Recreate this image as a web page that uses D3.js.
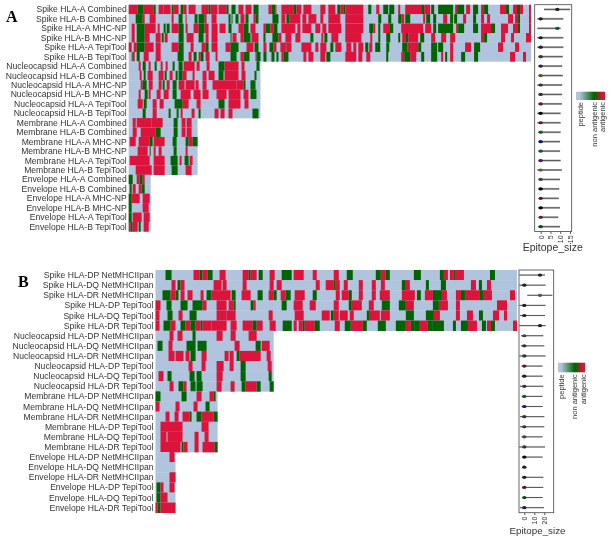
<!DOCTYPE html>
<html lang="en">
  <head>
    <title>Epitope maps</title>
    <script src="https://d3js.org/d3.v7.min.js"></script>
    <style>
      html, body { margin: 0; padding: 0; background: #fff; }
      svg { display: block; filter: blur(0.4px); }
      text { font-family: "Liberation Sans", Arial, sans-serif; fill: #333; }
    </style>
    <script>
// row labels
var labelsA = ['Spike HLA-A Combined','Spike HLA-B Combined','Spike HLA-A MHC-NP','Spike HLA-B MHC-NP','Spike HLA-A TepiTool','Spike HLA-B TepiTool',
  'Nucleocapsid HLA-A Combined','Nucleocapsid HLA-B Combined','Nucleocapsid HLA-A MHC-NP','Nucleocapsid HLA-B MHC-NP','Nucleocapsid HLA-A TepiTool','Nucleocapsid HLA-B TepiTool',
  'Membrane HLA-A Combined','Membrane HLA-B Combined','Membrane HLA-A MHC-NP','Membrane HLA-B MHC-NP','Membrane HLA-A TepiTool','Membrane HLA-B TepiTool',
  'Envelope HLA-A Combined','Envelope HLA-B Combined','Envelope HLA-A MHC-NP','Envelope HLA-B MHC-NP','Envelope HLA-A TepiTool','Envelope HLA-B TepiTool'];
var labelsB = ['Spike HLA-DP NetMHCIIpan','Spike HLA-DQ NetMHCIIpan','Spike HLA-DR NetMHCIIpan','Spike HLA-DP TepiTool','Spike HLA-DQ TepiTool','Spike HLA-DR TepiTool',
  'Nucleocapsid HLA-DP NetMHCIIpan','Nucleocapsid HLA-DQ NetMHCIIpan','Nucleocapsid HLA-DR NetMHCIIpan','Nucleocapsid HLA-DP TepiTool','Nucleocapsid HLA-DQ TepiTool','Nucleocapsid HLA-DR TepiTool',
  'Membrane HLA-DP NetMHCIIpan','Membrane HLA-DQ NetMHCIIpan','Membrane HLA-DR NetMHCIIpan','Membrane HLA-DP TepiTool','Membrane HLA-DQ TepiTool','Membrane HLA-DR TepiTool',
  'Envelope HLA-DP NetMHCIIpan','Envelope HLA-DQ NetMHCIIpan','Envelope HLA-DR NetMHCIIpan','Envelope HLA-DP TepiTool','Envelope HLA-DQ TepiTool','Envelope HLA-DR TepiTool'];

// protein length in sequence windows, one per group of six rows
var lengthsA = [403, 132, 69, 22];
var lengthsB = [361, 118, 62, 20];

// a = antigenic, n = non antigenic, from-to in windows; the rest of a row is plain peptide
var spikeA = [
  'a0-9 n9-15 a15-25 n25-27 a30-35 a35-42 n43-45 a45-50 n52-55 a55-58 a60-67 a73-80 n80-82 a82-89 a90-98 n98-100 n103-107 a110-115 a117-123 n125-130 a140-143 n143-147 a147-148 a153-165 n165-168 a168-173 a175-183 a192-197 a200-207 n209-212 a212-215 n215-217 a217-235 n240-243 a248-251 n255-260 n261-266 a270-272 a277-293 n293-296 a296-302 n303-306 n310-325 a327-329 n329-336 a338-342 n345-350 a353-356 n356-360 a372-378 n378-381 a385-389 n389-392 a392-395 a401-403',
  'n7-14 a14-16 a21-27 a43-45 n50-54 a57-58 n66-69 n70-76 a76-78 a83-88 n100-102 n103-104 n107-110 a112-116 n117-120 a125-127 n127-130 n144-150 a153-157 n158-161 a161-172 a174-178 a180-188 a192-195 a200-212 a217-235 n250-253 n260-263 n270-273 a273-276 n277-282 a295-297 n298-302 n305-308 a315-319 n322-325 n326-329 a335-338 n345-348 a353-356 a359-362 a380-385 a387-390 n390-392 a401-403',
  'a3-6 n8-16 a16-27 a29-31 n35-37 n38-41 a43-50 n50-55 a57-59 a65-70 n70-76 a76-80 a83-89 a91-97 n100-103 a110-115 n115-120 a122-127 a135-137 n137-142 a142-145 n145-149 a153-167 a169-172 a174-183 a187-192 a194-198 a200-213 a217-235 n241-245 a245-247 n250-252 a255-261 n261-265 a273-295 a297-303 n305-308 n310-325 a328-330 n330-336 n345-350 a353-363 n363-367 a373-380 a385-390 n390-392 a401-403',
  'a3-6 n8-16 a16-21 a27-32 n33-35 a36-39 n50-55 a58-65 n70-75 a77-80 a83-89 n102-103 a104-108 a112-115 n115-122 a123-130 n135-137 n144-150 a150-153 a157-163 a167-172 n182-185 a193-195 n196-199 a203-210 a217-233 a242-244 n250-252 n258-262 n270-272 a274-277 n277-280 a280-290 n292-296 a303-307 a313-318 a322-327 a353-356 n356-359 a373-377 a383-386 a398-403',
  'a0-3 a5-8 n8-16 a16-25 a27-32 a43-50 n50-55 a62-65 a73-77 n77-80 a83-89 a97-102 n102-110 a118-125 n126-130 a135-138 n141-145 a145-148 a152-157 n157-158 a158-163 a173-183 a187-190 a192-198 n202-205 a207-213 a218-223 a225-228 a230-235 n237-240 a241-244 n247-252 n258-261 n274-279 a279-290 n290-293 n303-309 n310-315 a322-325 a337-343 n346-352 a370-375 a387-391',
  'n3-4 a4-6 n8-11 a15-20 a27-32 n49-55 a60-63 n65-68 a70-72 n72-75 a77-81 a87-89 n102-108 a112-115 n115-121 a127-128 n128-132 n135-138 n143-146 n148-150 a153-155 n155-160 a175-178 a180-185 a192-197 n198-202 a217-228 a230-234 a238-242 n258-260 a273-276 n276-282 a282-288 n293-296 n303-309 a313-315 n317-319 a322-325 n333-337 n346-350 a382-387 a395-398'
];
var nucleoA = [
  'a10-12 n14-17 a20-22 n26-28 a32-34 a37-39 n44-46 n50-54 a55-66 a68-71 a78-81 n90-96 a96-110 a113-116 n128-131',
  'a11-13 n15-17 a19-24 a30-35 n36-38 a41-44 n47-49 n50-54 a54-58 a64-66 a74-78 a80-86 n90-95 a96-110 a113-117 n126-128',
  'a12-14 n14-18 a20-24 a30-33 n34-36 a38-41 n44-48 a50-56 a57-66 a67-70 a74-78 a84-108 a108-115 n115-117 n122-127',
  'a10-12 n16-19 a20-22 a28-32 a35-40 n44-48 a52-62 a65-72 a74-80 a88-98 a100-112 a115-120 n122-128',
  'a9-14 n15-18 a24-28 a31-35 n46-54 a54-60 a68-72 n90-96 a100-112 a116-120',
  'n14-17 a24-28 n40-42 n48-50 a52-54 a63-66 n70-72 a86-90 a92-96 a100-104 n124-130'
];
var membraneA = [
  'a4-7 a8-23 a23-34 n45-49 a53-57 a58-63',
  'a4-8 a12-27 n27-32 n45-49 a53-57 a58-63',
  'a1-7 a10-21 n21-24 a25-36 n44-48 n57-60 a60-64 n64-69',
  'a9-19 n21-22 a25-27 a30-33 n45-48 a57-59',
  'a1-21 a25-36 n42-49 a51-53 n56-60 a61-64',
  'a7-23 a25-36 n43-49 a57-63'
];
var envelopeA = [
  'n0-4 a8-11 n11-14 a14-16',
  'n1-3 a4-7 a10-13 n13-16',
  'n0-3 a3-11 a14-21',
  'n0-3 a14-20',
  'n0-3 a4-13 a15-21',
  'a0-2 n2-4 a4-9 n10-12 a15-20'
];
var spikeB = [
  'n10-16 a38-44 n44-47 a47-52 n52-57 a64-70 a87-93 n93-95 a95-101 n103-107 a114-119 n126-136 a138-148 a157-161 a178-183 n191-197 n220-225 a225-230 n230-234 n258-265 n284-288 a288-292 a294-298 n298-299 a299-308 n334-339',
  'a16-20 n22-25 a25-29 a58-66 a67-71 a87-91 a114-118 a121-126 a160-164 a170-178 n178-180 a180-184 a188-192 a203-207 a216-220 a225-229 n246-250 a250-254 n270-273 n285-290 a315-320 n323-326 a331-335',
  'n7-15 a15-20 n20-23 a25-29 a32-37 a45-48 n51-56 a56-75 n76-80 a86-95 n102-107 a113-118 n118-121 a125-130 n130-135 a139-149 n157-161 a180-184 a186-193 n193-196 a203-207 a216-220 a224-234 a246-259 n261-265 a269-277 n277-286 a286-291 a300-305 n305-309 a309-324 n324-327 a327-336 a354-359',
  'a0-5 n11-16 n25-32 n37-47 a47-51 a61-71 a73-78 n78-80 n95-98 a98-100 n126-131 a138-147 a154-160 a178-183 n193-196 a196-206 a213-218 n226-234 n243-250 a250-258 n277-283 a283-292 a300-304 a341-351',
  'a0-4 n12-17 a23-27 n34-41 a61-71 a71-80 a113-117 a139-148 a166-174 n175-178 a178-183 a184-192 a194-198 n211-214 a214-224 a225-234 n250-258 n270-278 a278-284 a300-304 a311-317 n323-327 a337-343 a348-351',
  'a0-4 n8-15 a15-20 n25-30 a30-35 n35-40 a40-45 n45-47 a47-56 a56-71 a75-81 a87-97 n97-101 a101-107 a114-120 n127-136 a138-141 a143-147 n147-149 a149-159 n159-164 a179-184 n189-195 a195-207 n207-211 n222-230 n240-250 a250-255 n255-259 n259-264 a264-272 n272-277 n277-288 n297-300 n305-312 a312-321 n326-330 a331-335 n335-339 a357-361'
];
var nucleoB = [
  'a14-18 a22-27 n37-40 a61-67 a75-80 a93-101',
  'n2-7 a13-17 n31-40 n42-51 a79-84 n100-105 a106-114',
  'a13-19 a20-28 a30-34 n35-40 a46-51 a69-73 a74-78 n81-84 a84-105 a111-115',
  'a33-37 a46-50 a61-68 a74-78 n85-90 a112-116',
  'a3-8 n12-16 n34-39 n41-46 a61-67 n85-90 n113-116',
  'a14-18 n23-28 a28-31 n35-40 n41-47 a61-66 a75-79 n86-90 a90-101 n101-105 n114-118'
];
var membraneB = [
  'n0-5 n26-31 a41-46 a54-58 n58-60',
  'a0-4 a20-24 a38-42 n50-54',
  'a10-14 a19-23 a27-34 n34-36 n41-46 a46-58 n58-62',
  'a5-27 a46-53',
  'a5-11 a12-27 a39-43 a49-53',
  'a5-25 n26-28 a28-32 a39-43 a47-59 n59-62'
];
var envelopeB = [
  'a14-19',
  '',
  'a14-20',
  'n1-5 a5-8 a14-19',
  'n1-5 a5-12',
  'a0-2 n2-5 a5-20'
];

// violin of epitope sizes per row: low end, high end, dot position
var lowA = [1.7,-1.7,-1.7,-1.7,-1.7,-1.2,-1.2,-1.2,-1.7,-1.2,-1.2,-1.7,-1.7,-1.2,-1.2,-1.2,-1.2,-1.7,-1.2,-1.2,-0.9,-1.2,-0.4,-1.2];
var highA = [15,11.6,10.2,11.6,11.6,11.3,11,11.3,11,11,10.8,10.2,10.2,10.2,9.9,9.9,10.2,10.8,9.9,9.5,9.2,9.9,9,9.9];
var dotA = [8.5,0,8.5,0,0,0,0,0,0,0,0,0,0,0,0,0,0,0,0,0,0,0,0,0];
var dotColorsA = ['#222','#222','#14532d','#222','#222','#333','#3a1a4a','#4a5a2a','#333','#333','#5a1a2a','#000','#5a1a2a','#1a5a2a','#14146a','#1a4a4a','#4a1a6a','#5a5a2a','#444','#000','#5a1a2a','#000','#5a1a2a','#14471f'];
var lowB = [-5,-5,3,-5,-4.3,-5,-3.3,-3.3,-5,-2.7,-2.7,-4.3,-2.7,-2.7,-4.3,-4.3,-2.7,-5,-1.7,-1,-2,-2,-1.7,-4.3];
var highB = [20.7,21.3,28,21.3,20.7,21.3,19,20,21.3,18.3,18.3,19,18.3,18.3,20,20,18.3,20.7,18.3,1.3,19,19,18.3,19.7];
var dotB = [15.7,0,15.7,0,0,15.7,0,0,0,0,0,0,0,0,0,0,0,0,0,0,0,0,0,0];
var dotColorsB = ['#222','#222','#555','#222','#222','#222','#444','#333','#333','#5a1a2a','#222','#333','#1a5a2a','#14146a','#333','#333','#444','#333','#111','#222','#222','#5a1a2a','#14471f','#222'];

var tickValuesA = [0, 5, 10, 15];
var tickValuesB = [0, 10, 20];
var legendNames = ['peptide', 'non antigenic', 'antigenic'];

window.onload = () => {
  var svg = d3.select('#chart').append('svg').attr('width', 612).attr('height', 540);
  var colors = {p: '#b0c4de', n: '#006400', a: '#dc143c'};

  var defs = svg.append('defs');
  var grad = defs.append('linearGradient').attr('id', 'legendGrad');
  [[0.12, colors.p], [0.62, colors.n], [0.92, colors.a]].forEach(d => {
    grad.append('stop').attr('offset', d[0]).attr('stop-color', d[1]);
  });

  function panel(o) {
    var rows = d3.range(o.labels.length);
    var y = d3.scaleBand().domain(rows).range([o.top, o.bottom]);
    var x = d3.scaleLinear().domain([0, o.lengths[0]]).range([o.left, o.right]);

    var g = svg.append('g');
    rows.forEach(i => {
      var len = o.lengths[Math.floor(i / 6)];
      g.append('rect').attr('x', x(0)).attr('y', y(i)).attr('width', x(len) - x(0)).attr('height', y.bandwidth() + 0.3).attr('fill', colors.p);
      var segs = o.rows[i].split(' ').filter(s => s).map(s => {
        var p = s.slice(1).split('-');
        return {kind: s[0], from: +p[0], to: +p[1]};
      });
      g.selectAll(null).data(segs).enter().append('rect')
        .attr('x', d => x(d.from))
        .attr('y', y(i))
        .attr('width', d => x(d.to) - x(d.from))
        .attr('height', y.bandwidth() + 0.3)
        .attr('fill', d => colors[d.kind]);
      g.append('text')
        .attr('x', o.left - 2)
        .attr('y', y(i) + y.bandwidth() / 2)
        .attr('dy', '0.35em')
        .attr('text-anchor', 'end')
        .attr('font-size', o.labelSize)
        .text(o.labels[i]);
    });

    // violin column
    var v = d3.scaleLinear().domain(o.ticks.slice(0, 1).concat(o.ticks.slice(-1))).range(o.vRange);
    var line = d3.line().x(d => v(d)).y(0);
    rows.forEach(i => {
      var r = svg.append('g').attr('transform', 'translate(0,' + (y(i) + y.bandwidth() / 2) + ')');
      r.append('path').attr('d', line([o.low[i], o.high[i]])).attr('stroke', '#888').attr('stroke-width', o.bandWidth).attr('opacity', 0.7).attr('fill', 'none');
      r.append('path').attr('d', line([o.low[i], o.high[i]])).attr('stroke', '#222').attr('stroke-width', 0.6).attr('fill', 'none');
      r.append('ellipse').attr('cx', v(o.dots[i])).attr('cy', 0).attr('rx', 2.2).attr('ry', 1.6).attr('fill', o.dotColors[i]);
    });
    svg.append('rect').attr('x', o.boxLeft).attr('y', o.top).attr('width', o.boxRight - o.boxLeft).attr('height', o.bottom - o.top)
      .attr('fill', 'none').attr('stroke', '#444').attr('stroke-width', 0.8);

    var axis = svg.append('g').attr('transform', 'translate(0,' + o.bottom + ')')
      .call(d3.axisBottom(v).tickValues(o.ticks).tickSize(2.5));
    axis.select('.domain').remove();
    axis.selectAll('line').attr('stroke', '#555');
    axis.selectAll('text')
      .attr('font-size', 7)
      .attr('font-family', '"Liberation Sans", Arial, sans-serif')
      .attr('fill', '#444')
      .attr('text-anchor', 'end')
      .attr('x', -4)
      .attr('y', 0)
      .attr('dy', '0.35em')
      .attr('transform', 'rotate(-90)');
    svg.append('text').attr('x', o.titleX).attr('y', o.titleY).attr('text-anchor', 'middle').attr('font-size', o.titleSize).text('Epitope_size');

    // legend
    svg.append('rect').attr('x', o.legend.x).attr('y', o.legend.y).attr('width', o.legend.w).attr('height', o.legend.h).attr('fill', 'url(#legendGrad)');
    legendNames.forEach((name, i) => {
      svg.append('text')
        .attr('transform', 'translate(' + o.legend.labelX[i] + ',' + (o.legend.y + o.legend.h + 2) + ') rotate(-90)')
        .attr('text-anchor', 'end')
        .attr('dy', '0.35em')
        .attr('font-size', 7.5)
        .text(name);
    });

    svg.append('text').attr('x', o.tagX).attr('y', o.tagY)
      .style('font-family', '"Liberation Serif", serif')
      .style('fill', '#000')
      .attr('font-weight', 'bold')
      .attr('font-size', 16)
      .text(o.tag);
  }

  panel({
    labels: labelsA, rows: spikeA.concat(nucleoA, membraneA, envelopeA), lengths: lengthsA,
    top: 4.7, bottom: 231.4, left: 128.7, right: 531, labelSize: 8.6,
    ticks: tickValuesA, vRange: [540.7, 570], boxLeft: 534.7, boxRight: 571.7,
    low: lowA, high: highA, dots: dotA, dotColors: dotColorsA, bandWidth: 2,
    titleX: 552.7, titleY: 251, titleSize: 10.5,
    legend: {x: 576, y: 91.7, w: 29, h: 8.3, labelX: [580, 594, 602]},
    tag: 'A', tagX: 6, tagY: 22
  });
  panel({
    labels: labelsB, rows: spikeB.concat(nucleoB, membraneB, envelopeB), lengths: lengthsB,
    top: 270, bottom: 512.7, left: 155.5, right: 517, labelSize: 8.6,
    ticks: tickValuesB, vRange: [524.3, 544.3], boxLeft: 519, boxRight: 553.7,
    low: lowB, high: highB, dots: dotB, dotColors: dotColorsB, bandWidth: 1.2,
    titleX: 537.5, titleY: 534, titleSize: 9.8,
    legend: {x: 558, y: 362.7, w: 27, h: 9.6, labelX: [561.7, 574, 583]},
    tag: 'B', tagX: 18, tagY: 287
  });
};
    </script>
  </head>
  <body>
    <div id="chart"></div>
  </body>
</html>
